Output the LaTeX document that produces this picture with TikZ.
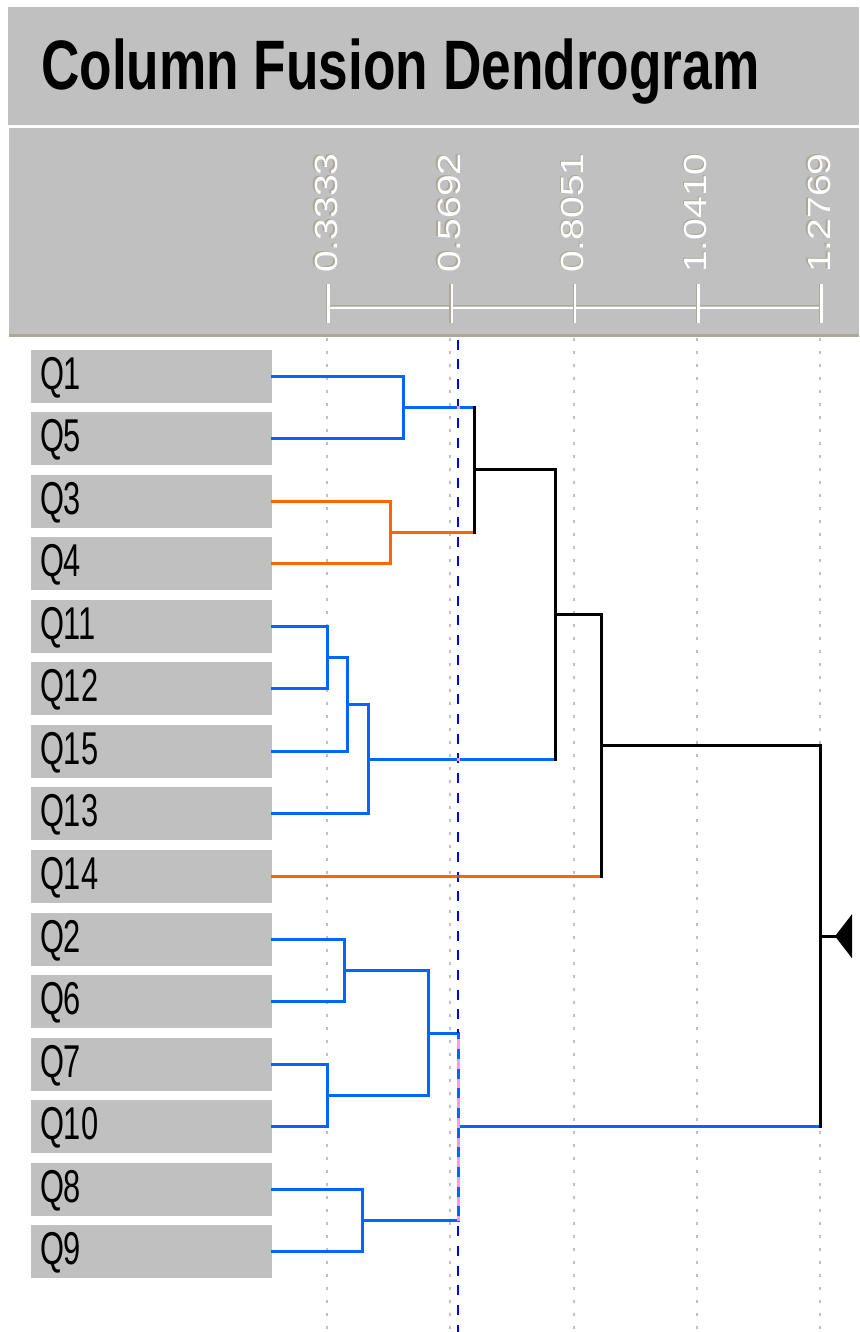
\documentclass[tikz,border=0pt]{standalone}
\usepackage{fontspec}
\setmainfont{Liberation Sans}
\usetikzlibrary{calc}
\definecolor{panel}{HTML}{C0C0C0}
\definecolor{tanline}{HTML}{ACA899}
\definecolor{dblue}{HTML}{0066FF}
\definecolor{dorange}{HTML}{FF6600}
\definecolor{cutblue}{HTML}{0000FF}
\definecolor{cutpink}{HTML}{FF99EE}
\definecolor{cutgreen}{HTML}{22AA22}
\newcommand\dlink[6]{%
  \draw[link,#4] (#2) -- (#2 -| #1);
  \draw[link,#5] (#3) -- (#3 -| #1);
  \draw[link,#6] (#2 -| #1) -- (#3 -| #1);}
\begin{document}
\begin{tikzpicture}[x=1pt,y=-1pt,
  leaf/.style={fill=panel, inner xsep=9pt, inner ysep=0pt, text width=223pt,
    minimum height=53pt, text height=33pt, text depth=7pt, align=left,
    font=\fontsize{46}{46}\selectfont},
  link/.style={line width=3pt, line cap=rect},
  grid/.style={panel, line width=2pt, dash pattern=on 3pt off 10pt},
  ticklab/.style={rotate=90, anchor=west, inner sep=0pt, font=\fontsize{32}{32}\selectfont},
  cut/.style={cutblue, line width=2pt, dash pattern=on 10pt off 9.7pt}]
\useasboundingbox (0,0) rectangle (859,1332);
\fill[white] (0,0) rectangle (859,1332);
% title panel
\fill[panel] (8,7) rectangle (859,125);
\node[anchor=base west, inner sep=0pt] (title) at (41,90)
  {\scalebox{0.76}[1]{\fontsize{70}{70}\selectfont\bfseries Column Fusion Dendrogram}};
% header panel
\fill[panel] (9,128) rectangle (859,334);
\fill[tanline] (9,334) rectangle (859,337);
% axis
\draw[tanline, line width=1.2pt] (329,305.6) -- (821,305.6);
\draw[white, line width=2.5pt] (329,308) -- (821,308);
\foreach \v [count=\i from 0] in {0.3333,0.5692,0.8051,1.0410,1.2769}{
  \pgfmathsetmacro\xx{327+123.25*\i}
  \draw[tanline, line width=1.2pt] (\xx-0.2,284) -- (\xx-0.2,323);
  \draw[white, line width=2.5pt] (\xx+1.5,284) -- (\xx+1.5,323);
  \node[ticklab, text=tanline] (ls\i) at (\xx-2.3,272) {\scalebox{1.22}[1]{\v}};
  \node[ticklab, text=white] (lt\i) at (\xx-1,273) {\scalebox{1.22}[1]{\v}};
  \draw[grid] (\xx,338) -- (\xx,1332);
}
% leaves
\foreach \n [count=\i from 0] in {1,5,3,4,11,12,15,13,14,2,6,7,10,8,9}{
  \node[leaf] (q\n) at (151.5,{376+62.57*\i}) {\scalebox{0.67}[1]{Q\n}};
}
% joins
\coordinate (c15) at (403,407.3);
\coordinate (c34) at (390,532.4);
\coordinate (cA) at (474,469.9);
\coordinate (c1112) at (327,657.6);
\coordinate (c1215) at (347,704.5);
\coordinate (c13) at (368,759.2);
\coordinate (cB) at (555,614.6);
\coordinate (cC) at (601,745.6);
\coordinate (c26) at (344,970.4);
\coordinate (c710) at (327,1095.6);
\coordinate (cD) at (428,1033);
\coordinate (c89) at (362,1220.7);
\coordinate (cE) at (458,1126.85);
\coordinate (root) at (820,936.2);
\dlink{c15}{q1.east}{q5.east}{dblue}{dblue}{dblue}
\dlink{c34}{q3.east}{q4.east}{dorange}{dorange}{dorange}
\dlink{cA}{c15}{c34}{dblue}{dorange}{black}
\dlink{c1112}{q11.east}{q12.east}{dblue}{dblue}{dblue}
\dlink{c1215}{c1112}{q15.east}{dblue}{dblue}{dblue}
\dlink{c13}{c1215}{q13.east}{dblue}{dblue}{dblue}
\dlink{cB}{cA}{c13}{black}{dblue}{black}
\dlink{cC}{cB}{q14.east}{black}{dorange}{black}
\dlink{c26}{q2.east}{q6.east}{dblue}{dblue}{dblue}
\dlink{c710}{q7.east}{q10.east}{dblue}{dblue}{dblue}
\dlink{cD}{c26}{c710}{dblue}{dblue}{dblue}
\dlink{c89}{q8.east}{q9.east}{dblue}{dblue}{dblue}
\dlink{cE}{cD}{c89}{dblue}{dblue}{dblue}
\dlink{root}{cC}{cE}{black}{dblue}{black}
% root marker
\coordinate (tip) at (835,936.2);
\draw[link, black] (root) -- (tip);
\fill[black] (tip) -- ++(17,-22) -- ++(0,44) -- cycle;
% cut line
\coordinate (cuttop) at (458,339.6);
\coordinate (cutbot) at (458,1332);
\draw[cut] (cuttop) -- (cutbot);
\begin{scope}
  \clip (454,1033) rectangle (462,1220.7);
  \draw[cutpink, line width=3pt] (cD -| cE) -- (c89 -| cE);
  \draw[dblue, line width=3pt, dash pattern=on 10pt off 9.7pt] (cuttop) -- (cutbot);
\end{scope}
\fill[cutpink] (456.5,405.8) rectangle (459.5,408.8);
\fill[cutpink] (456.5,757.7) rectangle (459.5,760.7);
\fill[cutgreen] (456.5,875.1) rectangle (459.5,878.1);
\end{tikzpicture}
\end{document}
